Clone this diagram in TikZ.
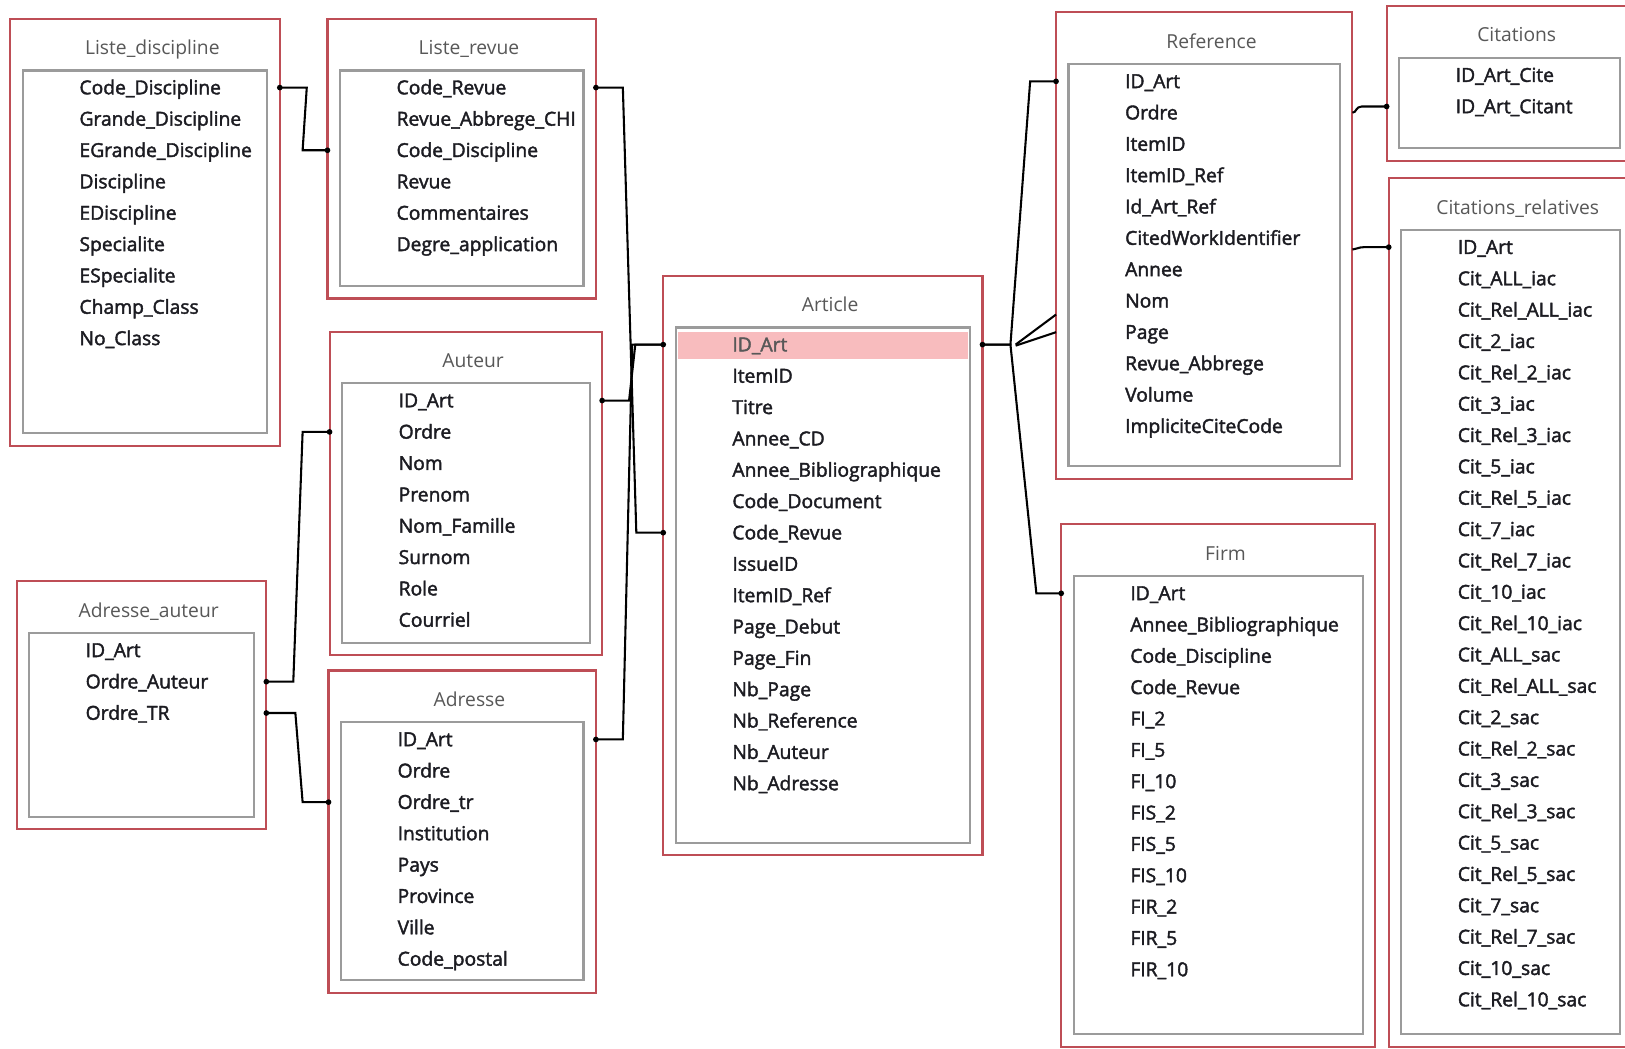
\documentclass[tikz,border=0pt]{standalone}
\usepackage{fontspec}
\setmainfont{Open Sans}
\newfontfamily\rowfont[FakeBold=2]{Open Sans}
\usetikzlibrary{calc}
\definecolor{outerred}{RGB}{190,78,86}
\definecolor{innergray}{RGB}{155,155,155}
\definecolor{hlpink}{RGB}{248,188,190}
\definecolor{rowtext}{RGB}{28,28,34}
\definecolor{titletext}{RGB}{88,88,88}
\tikzset{
  outerbox/.style={draw=outerred, line width=2pt, anchor=north west, inner sep=0pt, outer sep=0pt},
  innerbox/.style={draw=innergray, line width=2pt, anchor=north west, inner sep=0pt, outer sep=0pt},
  rowtxt/.style={anchor=west, inner sep=0pt, text height=13pt, text depth=0pt, font=\rowfont\fontsize{18.6}{22}\selectfont, text=rowtext},
  titletxt/.style={anchor=center, inner sep=0pt, text height=13pt, text depth=0pt, font=\fontsize{18.6}{22}\selectfont, text=titletext},
  conn/.style={draw=black, line width=2pt},
  enddot/.style={fill=black, circle, inner sep=0pt, minimum size=5.5pt},
  rs-art-1/.style={text=titletext}
}
% #1 name, #2 x1, #3 y1, #4 x2, #5 y2, #6 title, #7 rows
\newcommand\dbtable[7]{%
  \node[outerbox, minimum width={(#4-#2)*1pt}, minimum height={(#5-#3)*1pt}] (#1) at (#2,#3) {};
  \node[innerbox, minimum width={(#4-#2-24)*1pt}, minimum height={(#5-#3-62)*1pt}] (#1-in) at (#2+12,#3+50) {};
  \node[titletxt] (#1-title) at ({(#2+#4)/2+7},#3+28) {#6};
  \foreach \rowname [count=\i] in {#7}
    \node[rowtxt, rs-#1-\i/.try] (#1-\i) at (#2+66.5,{#3+66.5+30.25*(\i-1)}) {\rowname};
}
\begin{document}
\begin{tikzpicture}[x=1pt,y=-1pt]
\useasboundingbox (0,0) rectangle (1568,1012);
\fill[white] (0,0) rectangle (1568,1012);
\clip (0,0) rectangle (1568,1012);

\node[fill=hlpink, anchor=north west, minimum width=280pt, minimum height=26pt, inner sep=0pt] (arthl) at (654,320) {};

\dbtable{ld}{10}{18}{270}{430}{Liste\_discipline}{Code\_Discipline, Grande\_Discipline, EGrande\_Discipline, Discipline, EDiscipline, Specialite, ESpecialite, Champ\_Class, No\_Class}
\dbtable{lr}{316}{18}{575}{288}{Liste\_revue}{Code\_Revue, Revue\_Abbrege\_CHI, Code\_Discipline, Revue, Commentaires, Degre\_application}
\dbtable{au}{318}{320}{581}{632}{Auteur}{ID\_Art, Ordre, Nom, Prenom, Nom\_Famille, Surnom, Role, Courriel}
\dbtable{aa}{16}{561}{257}{800}{Adresse\_auteur}{ID\_Art, Ordre\_Auteur, Ordre\_TR}
\dbtable{ad}{317}{647}{575}{958}{Adresse}{ID\_Art, Ordre, Ordre\_tr, Institution, Pays, Province, Ville, Code\_postal}
\dbtable{art}{640}{266}{948}{825}{Article}{ID\_Art, ItemID, Titre, Annee\_CD, Annee\_Bibliographique, Code\_Document, Code\_Revue, IssueID, ItemID\_Ref, Page\_Debut, Page\_Fin, Nb\_Page, Nb\_Reference, Nb\_Auteur, Nb\_Adresse}
\dbtable{ref}{1019}{12}{1305}{462}{Reference}{ID\_Art, Ordre, ItemID, ItemID\_Ref, Id\_Art\_Ref, CitedWorkIdentifier, Annee, Nom, Page, Revue\_Abbrege, Volume, ImpliciteCiteCode}
\dbtable{cit}{1338}{6}{1575}{155}{Citations}{ID\_Art\_Cite, ID\_Art\_Citant}
\dbtable{cr}{1340}{172}{1575}{1010}{Citations\_relatives}{ID\_Art, Cit\_ALL\_iac, Cit\_Rel\_ALL\_iac, Cit\_2\_iac, Cit\_Rel\_2\_iac, Cit\_3\_iac, Cit\_Rel\_3\_iac, Cit\_5\_iac, Cit\_Rel\_5\_iac, Cit\_7\_iac, Cit\_Rel\_7\_iac, Cit\_10\_iac, Cit\_Rel\_10\_iac, Cit\_ALL\_sac, Cit\_Rel\_ALL\_sac, Cit\_2\_sac, Cit\_Rel\_2\_sac, Cit\_3\_sac, Cit\_Rel\_3\_sac, Cit\_5\_sac, Cit\_Rel\_5\_sac, Cit\_7\_sac, Cit\_Rel\_7\_sac, Cit\_10\_sac, Cit\_Rel\_10\_sac}
\dbtable{firm}{1024}{506}{1327}{1010}{Firm}{ID\_Art, Annee\_Bibliographique, Code\_Discipline, Code\_Revue, FI\_2, FI\_5, FI\_10, FIS\_2, FIS\_5, FIS\_10, FIR\_2, FIR\_5, FIR\_10}

% connector end points
\coordinate (p-ld1) at (ld.east |- ld-1);
\coordinate (p-lr3) at (lr.west |- lr-3);
\coordinate (p-lr1) at (lr.east |- lr-1);
\coordinate (p-art7) at (art.west |- art-7);
\coordinate (p-artL) at (art.west |- art-1);
\coordinate (p-au1) at (au.east |- au-1);
\coordinate (p-ad1) at (ad.east |- ad-1);
\coordinate (p-aa2) at (aa.east |- aa-2);
\coordinate (p-au2) at (au.west |- au-2);
\coordinate (p-aa3) at (aa.east |- aa-3);
\coordinate (p-ad3) at (ad.west |- ad-3);
\coordinate (p-artR) at (art.east |- art-1);
\coordinate (p-ref1) at (ref.west |- ref-1);
\coordinate (p-firm1) at (firm.west |- firm-1);
\coordinate (p-refA) at ($(ref.west |- ref-9)+(0,-17)$);
\coordinate (p-refB) at (ref.west |- ref-9);
\coordinate (p-ref2) at (ref.east |- ref-2);
\coordinate (p-cit2) at (cit.west |- cit-2);
\coordinate (p-refC) at ($(ref.east |- ref-6)+(0,11)$);
\coordinate (p-cr1) at (cr.west |- cr-1);

% left side connectors
\draw[conn] (p-ld1) -- ++(26,0) -- ($(p-lr3)+(-24,0)$) -- (p-lr3);
\draw[conn] (p-aa2) -- ++(26,0) -- ($(p-au2)+(-26,0)$) -- (p-au2);
\draw[conn] (p-aa3) -- ++(28,0) -- ($(p-ad3)+(-25,0)$) -- (p-ad3);
\draw[conn] (p-lr1) -- ++(26,0) -- ($(p-art7)+(-26,0)$) -- (p-art7);
\draw[conn] (p-au1) -- ++(26,0) -- ($(p-artL)+(-27,0)$) -- (p-artL);
\draw[conn] (p-ad1) -- ++(26,0) -- ($(p-artL)+(-30,0)$) -- (p-artL);

% right side connectors
\draw[conn] (p-artR) -- ++(27,0) -- ($(p-ref1)+(-25,0)$) -- (p-ref1);
\draw[conn] (p-artR) -- ++(27,0) -- ($(p-firm1)+(-24,0)$) -- (p-firm1);
\draw[conn] ($(p-artR)+(32,0)$) -- (p-refA);
\draw[conn] ($(p-artR)+(32,1)$) -- (p-refB);
\draw[conn] (p-ref2) .. controls ++(4,0) and ($(p-cit2)+(-30,0)$) .. ($(p-cit2)+(-24,0)$) -- (p-cit2);
\draw[conn] (p-refC) .. controls ++(4,0) and ($(p-cr1)+(-30,0)$) .. ($(p-cr1)+(-24,0)$) -- (p-cr1);

% end dots
\foreach \p in {p-ld1,p-lr3,p-lr1,p-art7,p-artL,p-au1,p-ad1,p-aa2,p-au2,p-aa3,p-ad3,p-artR,p-ref1,p-firm1,p-cit2,p-cr1}
  \node[enddot] at (\p) {};
\end{tikzpicture}
\end{document}
